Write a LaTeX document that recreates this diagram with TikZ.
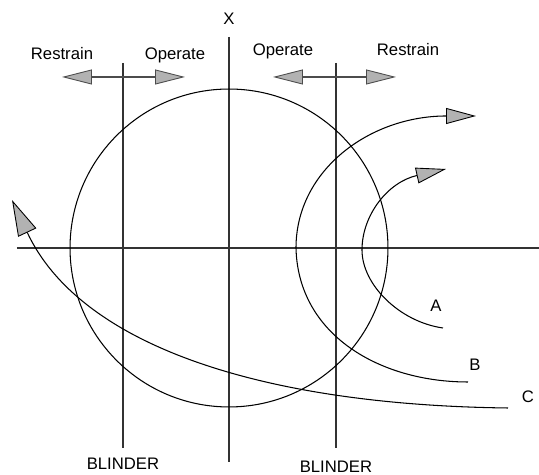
\documentclass[tikz,border=0pt]{standalone}
\usepackage{fontspec}
\setmainfont{Liberation Sans}
\usetikzlibrary{arrows.meta}

\begin{document}
\begin{tikzpicture}[x=0.02cm, y=-0.02cm,
    lbl/.style={font=\fontsize{9.5}{11}\selectfont, inner sep=0pt, anchor=base},
    axis/.style={line width=0.7pt, black!80},
    curve/.style={line width=0.6pt},
    zone/.style={{Triangle[length=0.6cm,width=0.3cm,fill=gray!60,line width=0.5pt]}-{Triangle[length=0.6cm,width=0.3cm,fill=gray!60,line width=0.5pt]}, line width=0.9pt, black!70},
    swing/.style={-{Triangle[length=0.6cm,width=0.32cm,fill=gray!60,line width=0.5pt]}, line width=0.6pt},
    swingC/.style={-{Triangle[length=0.72cm,width=0.4cm,fill=gray!60,line width=0.5pt]}, line width=0.6pt}
  ]
    \useasboundingbox (0,0) rectangle (539,475);

    % axes and blinders
    \coordinate (O) at (229,248);
    \coordinate (Xtop) at (229,37);
    \coordinate (Xbot) at (229,462);
    \coordinate (Rleft) at (17,248);
    \coordinate (Rright) at (539,248);
    \coordinate (BLtop) at (123,63);
    \coordinate (BLbot) at (123,448);
    \coordinate (BRtop) at (336,63);
    \coordinate (BRbot) at (336,448);
    \draw[axis] (Xtop) -- (Xbot);
    \draw[axis] (Rleft) -- (Rright);
    \draw[axis] (BLtop) -- (BLbot);
    \draw[axis] (BRtop) -- (BRbot);
    \node[lbl] (xlabel) at (229,25) {X};
    \node[lbl] (blinderL) at (123,470) {BLINDER};
    \node[lbl] (blinderR) at (336,473) {BLINDER};

    % relay characteristic
    \draw[curve] (O) circle[radius=3.18cm];

    % restrain / operate zones
    \coordinate (zl1) at (62,77);
    \coordinate (zl2) at (185,77);
    \coordinate (zr1) at (273,77);
    \coordinate (zr2) at (396,77);
    \draw[zone] (zl1) -- (zl2);
    \draw[zone] (zr1) -- (zr2);
    \node[lbl] (restrainL) at (62,60) {Restrain};
    \node[lbl] (operateL) at (175,60) {Operate};
    \node[lbl] (operateR) at (283,56) {Operate};
    \node[lbl] (restrainR) at (408,56) {Restrain};

    % swing loci
    \coordinate (Aend) at (443,328);
    \coordinate (Atip) at (446,169);
    \coordinate (Bend) at (468,382);
    \coordinate (Btip) at (476,116);
    \coordinate (Cend) at (508,408);
    \coordinate (Ctip) at (12,200);
    \draw[swing] (Aend) .. controls (400,322) and (362,285) .. (362,250)
      .. controls (362,215) and (388,182) .. (Atip);
    \draw[swing] (Bend) .. controls (380,382) and (298,335) .. (296,248)
      .. controls (296,170) and (370,116) .. (Btip);
    \draw[swingC] (Cend) .. controls (260,405) and (80,345) .. (Ctip);
    \node[lbl] (labA) at (436,312) {A};
    \node[lbl] (labB) at (475,371) {B};
    \node[lbl] (labC) at (528,403) {C};
  \end{tikzpicture}
\end{document}
